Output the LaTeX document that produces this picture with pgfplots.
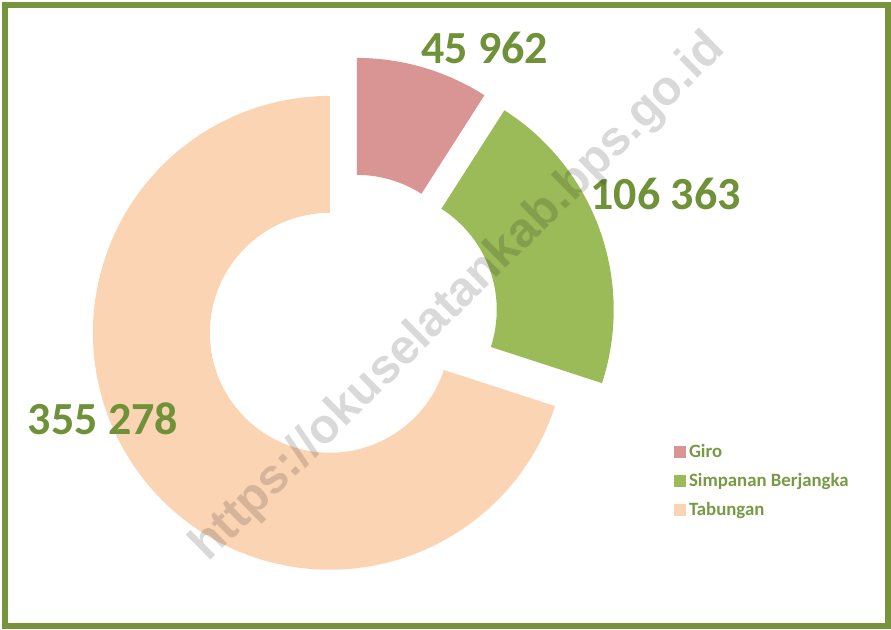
\documentclass[border=0pt]{standalone}
\usepackage{pgfplots}
\pgfplotsset{compat=1.18}
\usepackage{pgfplotstable}
\usepackage{fontspec}
\setmainfont{Carlito}
\newfontfamily\wmfont{Liberation Sans}
\definecolor{giro}{HTML}{D99594}
\definecolor{berj}{HTML}{9BBB59}
\definecolor{tabu}{HTML}{FBD4B4}
\definecolor{lbl}{HTML}{6F9138}
\definecolor{lgd}{HTML}{789A45}
\definecolor{frm}{HTML}{77933C}

% value = amount, cx/cy = centre of the (exploded) slice in pixel units
\pgfplotstableread{
idx value cx cy
0 45962 357 334
1 106363 377 319
2 355278 330 296
}\slices

\pgfplotstablegetelem{0}{value}\of\slices \let\vA\pgfplotsretval
\pgfplotstablegetelem{1}{value}\of\slices \let\vB\pgfplotsretval
\pgfplotstablegetelem{2}{value}\of\slices \let\vC\pgfplotsretval
\pgfplotstablegetelem{0}{cx}\of\slices \let\cxA\pgfplotsretval
\pgfplotstablegetelem{1}{cx}\of\slices \let\cxB\pgfplotsretval
\pgfplotstablegetelem{2}{cx}\of\slices \let\cxC\pgfplotsretval
\pgfplotstablegetelem{0}{cy}\of\slices \let\cyA\pgfplotsretval
\pgfplotstablegetelem{1}{cy}\of\slices \let\cyB\pgfplotsretval
\pgfplotstablegetelem{2}{cy}\of\slices \let\cyC\pgfplotsretval
\edef\aA{90}
\edef\aB{\fpeval{90-360*\vA/(\vA+\vB+\vC)}}
\edef\aC{\fpeval{\aB-360*\vB/(\vA+\vB+\vC)}}
\edef\aD{\fpeval{\aC-360*\vC/(\vA+\vB+\vC)}}
\def\Rout{118.5pt}
\def\Rin{60pt}

\begin{document}
\begin{tikzpicture}
\begin{axis}[
  x=0.5pt, y=0.5pt,
  xmin=0, xmax=891, ymin=0, ymax=629,
  hide axis, clip=false,
  legend image code/.code={\fill[#1, draw=none] (0pt,-3pt) rectangle (6pt,3pt);},
  legend cell align=left,
  legend style={at={(axis cs:674,186)}, anchor=north west, draw=none, fill=none,
    inner sep=0pt, column sep=1.5pt, row sep=5.5pt,
    font=\bfseries\fontsize{9.4}{11}\selectfont, text=lgd,
    nodes={inner sep=0pt, text height=7pt, text depth=2pt}},
]
\path (axis cs:0,0) rectangle (axis cs:891,629);
% Giro
\fill[giro] ([shift={(\aA:\Rout)}]axis cs:\cxA,\cyA) arc[start angle=\aA, end angle=\aB, radius=\Rout]
  -- ([shift={(\aB:\Rin)}]axis cs:\cxA,\cyA) arc[start angle=\aB, end angle=\aA, radius=\Rin] -- cycle;
% Simpanan Berjangka
\fill[berj] ([shift={(\aB:\Rout)}]axis cs:\cxB,\cyB) arc[start angle=\aB, end angle=\aC, radius=\Rout]
  -- ([shift={(\aC:\Rin)}]axis cs:\cxB,\cyB) arc[start angle=\aC, end angle=\aB, radius=\Rin] -- cycle;
% Tabungan
\fill[tabu] ([shift={(\aC:\Rout)}]axis cs:\cxC,\cyC) arc[start angle=\aC, end angle=\aD, radius=\Rout]
  -- ([shift={(\aD:\Rin)}]axis cs:\cxC,\cyC) arc[start angle=\aD, end angle=\aC, radius=\Rin] -- cycle;

\addlegendimage{fill=giro}\addlegendentry{Giro}
\addlegendimage{fill=berj}\addlegendentry{Simpanan Berjangka}
\addlegendimage{fill=tabu}\addlegendentry{Tabungan}

\node[font=\bfseries\fontsize{23}{23}\selectfont, text=lbl] at (axis cs:485,581) {45 962};
\node[font=\bfseries\fontsize{23}{23}\selectfont, text=lbl] at (axis cs:666,435) {106 363};
\node[font=\bfseries\fontsize{23}{23}\selectfont, text=lbl] at (axis cs:103,210) {355 278};

\node[rotate=44.7, font=\wmfont\bfseries\fontsize{24.3}{24}\selectfont, text=black, text opacity=0.15] at (axis cs:459,331) {https://okuselatankab.bps.go.id};

\draw[frm, line width=3pt] (axis cs:5,2.5) rectangle (axis cs:888.5,624);
\end{axis}
\end{tikzpicture}
\end{document}
